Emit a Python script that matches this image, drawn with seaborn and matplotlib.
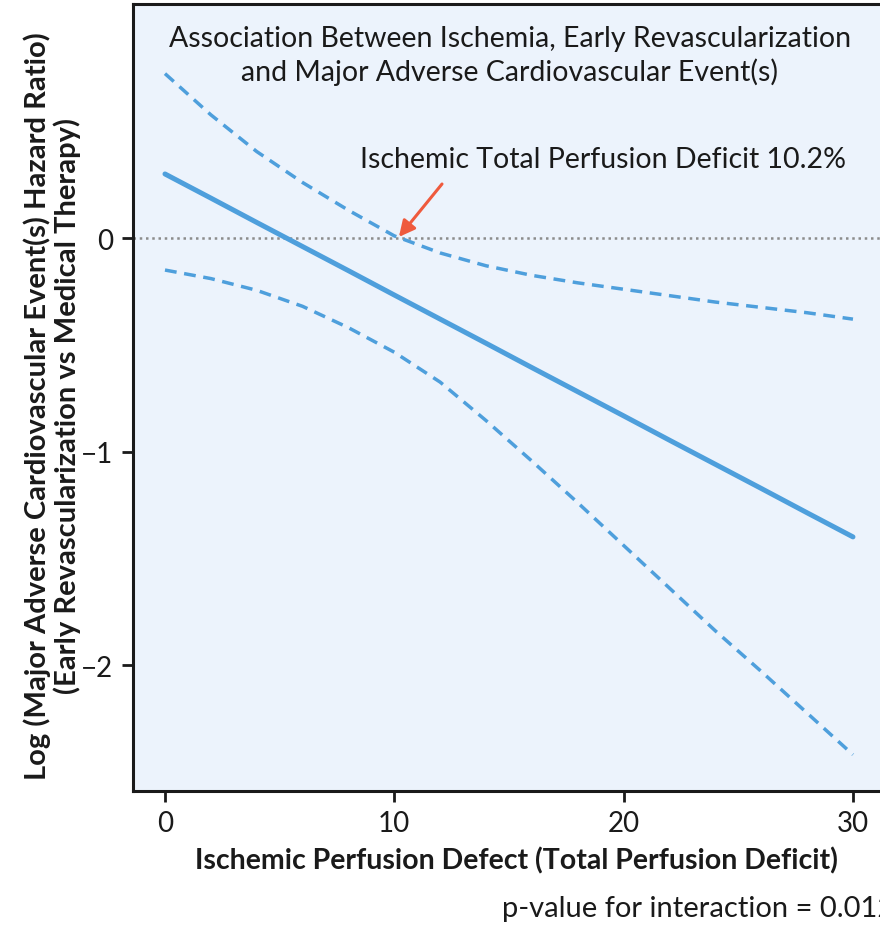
import numpy as np
import pandas as pd
import matplotlib
matplotlib.use("Agg")
import matplotlib.pyplot as plt
import seaborn as sns

# ---------------------------------------------------------------
# values
# ---------------------------------------------------------------
tpd = [0, 2, 4, 6, 8, 10, 12, 14, 16, 18, 20, 22, 24, 26, 28, 30]
log_hr = [0.30, 0.187, 0.073, -0.04, -0.153, -0.267, -0.38, -0.493,
          -0.607, -0.72, -0.833, -0.947, -1.06, -1.173, -1.287, -1.40]
ci_upper = [0.77, 0.577, 0.405, 0.26, 0.13, 0.01, -0.07, -0.13,
            -0.175, -0.21, -0.24, -0.27, -0.30, -0.325, -0.35, -0.38]
ci_lower = [-0.15, -0.19, -0.245, -0.32, -0.42, -0.535, -0.675, -0.855,
            -1.045, -1.24, -1.44, -1.64, -1.84, -2.03, -2.225, -2.42]

x_ticks = [0, 10, 20, 30]
y_ticks = [0, -1, -2]
threshold = 10.2

title = ("Association Between Ischemia, Early Revascularization\n"
         "and Major Adverse Cardiovascular Event(s)")
x_label = "Ischemic Perfusion Defect (Total Perfusion Deficit)"
y_label = ("Log (Major Adverse Cardiovascular Event(s) Hazard Ratio)\n"
           "(Early Revascularization vs Medical Therapy)")
arrow_text = "Ischemic Total Perfusion Deficit 10.2%"
p_text = "p-value for interaction = 0.012"

df = pd.DataFrame({"tpd": tpd, "est": log_hr, "hi": ci_upper, "lo": ci_lower})

# ---------------------------------------------------------------
sns.set_style("ticks")
plt.rcParams["font.family"] = ["Lato", "DejaVu Sans"]

BLUE = "#4e9fdc"
BG = "#ecf3fc"
INK = "#1a1a1a"

fig = plt.figure(figsize=(8.8, 9.29), dpi=100)
ax = fig.add_axes([0.1511, 0.1475, 0.8716, 0.8471])
ax.set_facecolor(BG)

ax.axhline(0, color="#8c8c8c", lw=1.8, ls=(0, (1, 1.5)), zorder=1)

sns.lineplot(data=df, x="tpd", y="est", ax=ax, color=BLUE, lw=3.6)
sns.lineplot(data=df, x="tpd", y="hi", ax=ax, color=BLUE, lw=2.5)
sns.lineplot(data=df, x="tpd", y="lo", ax=ax, color=BLUE, lw=2.5)
for ln in ax.lines[2:]:
    ln.set_linestyle((0, (3.4, 2.2)))

ax.annotate("", xy=(threshold, 0.005), xytext=(12.08, 0.253),
            arrowprops=dict(arrowstyle="-|>", color="#ef5a3d", lw=2.2,
                            mutation_scale=24, shrinkA=0, shrinkB=0))
ax.text(19.1, 0.37, arrow_text, ha="center", va="center", fontsize=20.5,
        color=INK)

ax.set_xlim(-1.396, 32.05)
ax.set_ylim(-2.59, 1.096)
ax.set_xticks(x_ticks)
ax.set_yticks(y_ticks)
ax.set_yticklabels(["0", "\u22121", "\u22122"])
ax.tick_params(length=8, width=2, labelsize=20, pad=6, colors=INK)
for s in ax.spines.values():
    s.set_linewidth(2.2)
    s.set_color(INK)

ax.set_xlabel(x_label, fontsize=20.5, fontweight="bold", labelpad=7, color=INK)
ax.set_ylabel(y_label, fontsize=21, fontweight="bold", linespacing=1.1,
              color=INK)
ax.yaxis.set_label_coords(-0.068, 0.49)

fig.text(0.5795, 0.9397, title, ha="center", va="center", fontsize=20.5,
         linespacing=1.25, color=INK)
# the reference crops the end of this note at the right edge
fig.text(0.571, 0.021, p_text, ha="left", va="center", fontsize=21,
         color=INK)

fig.savefig("out.png", dpi=100)
